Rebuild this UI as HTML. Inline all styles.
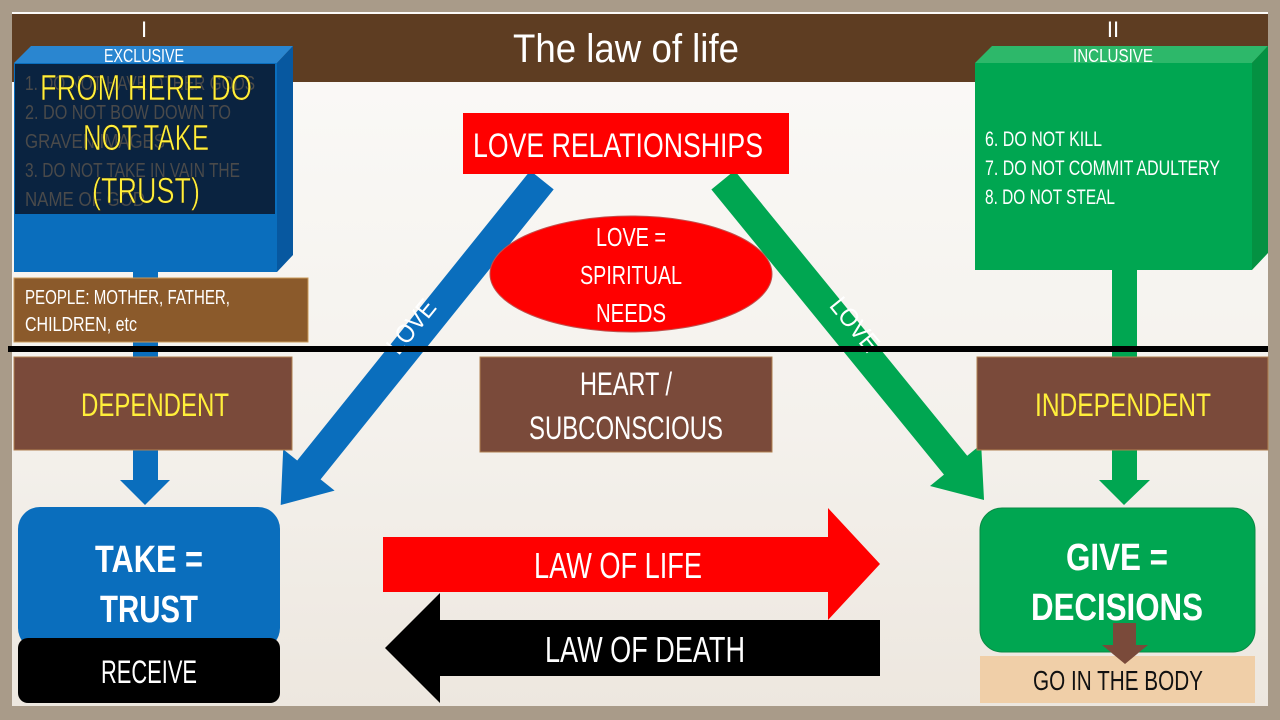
<!DOCTYPE html>
<html><head><meta charset="utf-8"><style>
html,body{margin:0;padding:0;width:1280px;height:720px;overflow:hidden;background:#a89a88}
svg{display:block}
text{font-family:"Liberation Sans Narrow","Liberation Sans",sans-serif}
</style></head><body>
<svg width="1280" height="720" viewBox="0 0 1280 720">
<defs>
<linearGradient id="bg" x1="0" y1="0" x2="0" y2="1"><stop offset="0" stop-color="#fbfaf8"/><stop offset="0.6" stop-color="#f4f1ec"/><stop offset="1" stop-color="#ede7df"/></linearGradient>
</defs>
<rect x="0" y="0" width="1280" height="720" fill="#a99b89"/>
<rect x="12" y="12" width="1256" height="694" fill="url(#bg)"/>
<rect x="12" y="14" width="1256" height="68" fill="#5e3d22"/>
<text x="626" y="62" font-size="40" fill="#fff" text-anchor="middle" textLength="226" lengthAdjust="spacingAndGlyphs">The law of life</text>
<text x="144" y="37" font-size="22" fill="#fff" text-anchor="middle">I</text>
<text x="1113" y="37" font-size="22" fill="#fff" text-anchor="middle">II</text>

<rect x="133" y="270" width="25" height="212" fill="#0a6ebd"/>
<polygon points="120,480 170,480 145,505" fill="#0a6ebd"/>
<rect x="1112" y="268" width="25" height="214" fill="#00a651"/>
<polygon points="1099,480 1150,480 1124,505" fill="#00a651"/>

<polygon points="14,63 31,46 293,46 277,63" fill="#2a86d0"/>
<polygon points="277,63 293,46 293,255 277,272" fill="#0758a0"/>
<rect x="14" y="63" width="263" height="209" fill="#0a6ebd"/>
<rect x="15" y="64" width="260" height="150" fill="#0a2340"/>
<text x="144" y="62" font-size="18" fill="#fff" text-anchor="middle" textLength="80" lengthAdjust="spacingAndGlyphs">EXCLUSIVE</text>
<g font-size="20" fill="#4a4a4a">
<text x="25" y="90" textLength="230" lengthAdjust="spacingAndGlyphs">1. DO NOT HAVE OTHER GODS</text>
<text x="25" y="119" textLength="206" lengthAdjust="spacingAndGlyphs">2. DO NOT BOW DOWN TO</text>
<text x="25" y="148" textLength="140" lengthAdjust="spacingAndGlyphs">GRAVEN IMAGES</text>
<text x="25" y="177" textLength="215" lengthAdjust="spacingAndGlyphs">3. DO NOT TAKE IN VAIN THE</text>
<text x="25" y="206" textLength="120" lengthAdjust="spacingAndGlyphs">NAME OF GOD</text>
</g>
<g font-size="36" fill="#ffef3a" stroke="#222" stroke-width="0.6" text-anchor="middle">
<text x="146" y="100" textLength="212" lengthAdjust="spacingAndGlyphs">FROM HERE DO</text>
<text x="146" y="150" textLength="126" lengthAdjust="spacingAndGlyphs">NOT TAKE</text>
<text x="146" y="203" textLength="108" lengthAdjust="spacingAndGlyphs">(TRUST)</text>
</g>

<polygon points="975,63 992,46 1268,46 1252,63" fill="#2db86a"/>
<polygon points="1252,63 1268,46 1268,253 1252,270" fill="#049142"/>
<rect x="975" y="63" width="277" height="207" fill="#00a651"/>
<text x="1113" y="62" font-size="18" fill="#fff" text-anchor="middle" textLength="80" lengthAdjust="spacingAndGlyphs">INCLUSIVE</text>
<g font-size="21" fill="#fff">
<text x="985" y="146" textLength="117" lengthAdjust="spacingAndGlyphs">6. DO NOT KILL</text>
<text x="985" y="175" textLength="235" lengthAdjust="spacingAndGlyphs">7. DO NOT COMMIT ADULTERY</text>
<text x="985" y="204" textLength="130" lengthAdjust="spacingAndGlyphs">8. DO NOT STEAL</text>
</g>

<rect x="14" y="278" width="294" height="64" fill="#8b5a2b" stroke="#c99a5a" stroke-width="1"/>
<text x="25" y="304" font-size="20" fill="#fff" textLength="205" lengthAdjust="spacingAndGlyphs">PEOPLE: MOTHER, FATHER,</text>
<text x="25" y="331" font-size="20" fill="#fff" textLength="112" lengthAdjust="spacingAndGlyphs">CHILDREN, etc</text>

<!-- diagonal arrows (drawn under the red box) -->
<g transform="translate(542,180) rotate(128.8)">
<polygon points="0,-15 372,-15 372,-33 417,0 372,33 372,15 0,15" fill="#0a6ebd"/>
</g>
<g transform="translate(723,180) rotate(50.8)">
<polygon points="0,-15 368,-15 368,-33 413,0 368,33 368,15 0,15" fill="#00a651"/>
</g>

<rect x="463" y="113" width="326" height="61" fill="#ff0000"/>
<text x="618" y="157" font-size="34" fill="#fff" text-anchor="middle" textLength="290" lengthAdjust="spacingAndGlyphs">LOVE RELATIONSHIPS</text>

<ellipse cx="631" cy="274" rx="141" ry="58" fill="#ff0000" stroke="#c0504d" stroke-width="1"/>
<g font-size="26" fill="#fff" text-anchor="middle">
<text x="631" y="246" textLength="70" lengthAdjust="spacingAndGlyphs">LOVE =</text>
<text x="631" y="284" textLength="102" lengthAdjust="spacingAndGlyphs">SPIRITUAL</text>
<text x="631" y="322" textLength="70" lengthAdjust="spacingAndGlyphs">NEEDS</text>
</g>

<text transform="translate(418,332) rotate(-51)" font-size="26" fill="#fff" text-anchor="middle" textLength="62" lengthAdjust="spacingAndGlyphs">LOVE</text>
<text transform="translate(848,330) rotate(51)" font-size="26" fill="#fff" text-anchor="middle" textLength="62" lengthAdjust="spacingAndGlyphs">LOVE</text>

<rect x="8" y="346" width="1260" height="6" fill="#000"/>

<rect x="14" y="357" width="278" height="93" fill="#7a4a3a" stroke="#b08050" stroke-width="1"/>
<text x="155" y="416" font-size="32" fill="#ffef3a" text-anchor="middle" textLength="148" lengthAdjust="spacingAndGlyphs">DEPENDENT</text>
<rect x="480" y="357" width="292" height="95" fill="#7a4a3a" stroke="#b08050" stroke-width="1"/>
<text x="626" y="395" font-size="32" fill="#fff" text-anchor="middle" textLength="92" lengthAdjust="spacingAndGlyphs">HEART /</text>
<text x="626" y="439" font-size="32" fill="#fff" text-anchor="middle" textLength="194" lengthAdjust="spacingAndGlyphs">SUBCONSCIOUS</text>
<rect x="977" y="357" width="291" height="93" fill="#7a4a3a" stroke="#b08050" stroke-width="1"/>
<text x="1123" y="416" font-size="32" fill="#ffef3a" text-anchor="middle" textLength="176" lengthAdjust="spacingAndGlyphs">INDEPENDENT</text>

<rect x="18" y="507" width="262" height="143" rx="22" fill="#0a6ebd"/>
<text x="149" y="572" font-size="38" font-weight="bold" fill="#fff" text-anchor="middle" textLength="108" lengthAdjust="spacingAndGlyphs">TAKE =</text>
<text x="149" y="622" font-size="38" font-weight="bold" fill="#fff" text-anchor="middle" textLength="98" lengthAdjust="spacingAndGlyphs">TRUST</text>
<rect x="18" y="638" width="262" height="65" rx="10" fill="#000"/>
<text x="149" y="683" font-size="32" fill="#fff" text-anchor="middle" textLength="96" lengthAdjust="spacingAndGlyphs">RECEIVE</text>

<rect x="980" y="508" width="275" height="144" rx="22" fill="#00a651" stroke="#0a8a45" stroke-width="1"/>
<text x="1117" y="570" font-size="38" font-weight="bold" fill="#fff" text-anchor="middle" textLength="102" lengthAdjust="spacingAndGlyphs">GIVE =</text>
<text x="1117" y="620" font-size="38" font-weight="bold" fill="#fff" text-anchor="middle" textLength="172" lengthAdjust="spacingAndGlyphs">DECISIONS</text>
<rect x="980" y="656" width="275" height="47" fill="#f0cfa8"/>
<text x="1118" y="690" font-size="28" fill="#111" text-anchor="middle" textLength="170" lengthAdjust="spacingAndGlyphs">GO IN THE BODY</text>
<polygon points="1113,623 1136,623 1136,645 1148,645 1125,664 1102,645 1113,645" fill="#7a4a3a"/>

<polygon points="383,537 828,537 828,508 880,564 828,620 828,592 383,592" fill="#ff0000"/>
<text x="618" y="578" font-size="36" fill="#fff" text-anchor="middle" textLength="168" lengthAdjust="spacingAndGlyphs">LAW OF LIFE</text>
<polygon points="880,620 440,620 440,593 385,648 440,703 440,676 880,676" fill="#000"/>
<text x="645" y="662" font-size="36" fill="#fff" text-anchor="middle" textLength="200" lengthAdjust="spacingAndGlyphs">LAW OF DEATH</text>
</svg>
</body></html>
